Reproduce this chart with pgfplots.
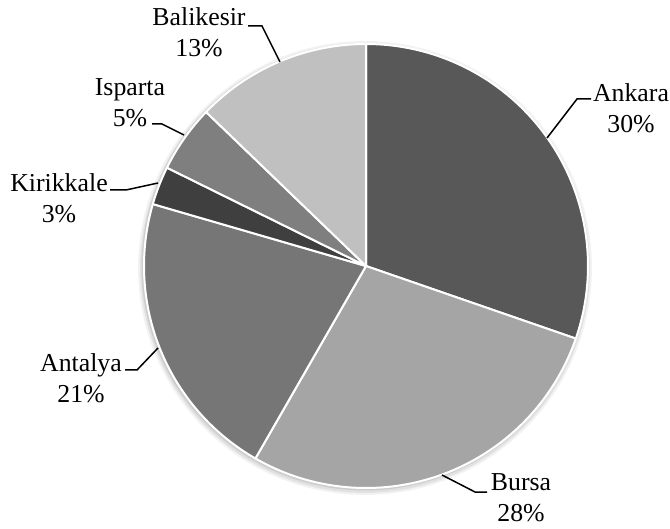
\documentclass[border=0pt]{standalone}
\usepackage{pgfplots}
\pgfplotsset{compat=1.18}
\usepackage{fontspec}
\setmainfont{Liberation Serif}
\definecolor{cAnk}{HTML}{585858}
\definecolor{cBur}{HTML}{A5A5A5}
\definecolor{cAnt}{HTML}{767676}
\definecolor{cKir}{HTML}{3F3F3F}
\definecolor{cIsp}{HTML}{7F7F7F}
\definecolor{cBal}{HTML}{C0C0C0}
% cumulative percent, value percent, colour
\newcommand{\slice}[3]{%
  \pgfmathsetmacro\sA{-90+3.6*#1}%
  \pgfmathsetmacro\sB{-90+3.6*(#1+#2)}%
  \edef\doslice{\noexpand\addplot[draw=white, line width=1pt, line join=round, fill=#3, domain=\sA:\sB, samples=90] ({366+222*cos(x)},{266+222*sin(x)}) -- (axis cs:366,266) -- cycle;}%
  \doslice}
\begin{document}
\begin{tikzpicture}
\begin{axis}[x=0.5pt, y=0.5pt, xmin=0, xmax=670, ymin=0, ymax=529,
  y dir=reverse, hide axis, clip=false]
\path (rel axis cs:0,0) rectangle (rel axis cs:1,1);
% soft shadow
\addplot[draw=none, fill=black, fill opacity=0.05, domain=0:360, samples=120] ({365+227*cos(x)},{268+227*sin(x)}) -- cycle;
\addplot[draw=none, fill=black, fill opacity=0.07, domain=0:360, samples=120] ({365+225*cos(x)},{268+225*sin(x)}) -- cycle;
\addplot[draw=none, fill=black, fill opacity=0.09, domain=0:360, samples=120] ({365+223.5*cos(x)},{267+223.5*sin(x)}) -- cycle;
% slices: Ankara 30.3, Bursa 28.0, Antalya 21.2, Kirikkale 2.8, Isparta 4.9, Balikesir 12.8
\slice{0}{30.3}{cAnk}
\slice{30.3}{28.0}{cBur}
\slice{58.3}{21.2}{cAnt}
\slice{79.5}{2.8}{cKir}
\slice{82.3}{4.9}{cIsp}
\slice{87.2}{12.8}{cBal}
% leader lines
\addplot[black, line width=0.75pt] coordinates {(547,138) (577,99) (591,99)};
\addplot[black, line width=0.75pt] coordinates {(248,26) (262,26) (280,62)};
\addplot[black, line width=0.75pt] coordinates {(152,124) (162,124) (184,135)};
\addplot[black, line width=0.75pt] coordinates {(110,190) (126,190) (158,183)};
\addplot[black, line width=0.75pt] coordinates {(125,370) (137,370) (158,348)};
\addplot[black, line width=0.75pt] coordinates {(442,475) (475,492) (487,492)};
% labels
\tikzset{lbl/.style={align=center, inner sep=0pt, font=\fontsize{12.9}{15.5}\selectfont}}
\node[lbl] at (axis cs:631,108) {Ankara\\30\%};
\node[lbl] at (axis cs:521,498) {Bursa\\28\%};
\node[lbl] at (axis cs:81,378) {Antalya\\21\%};
\node[lbl] at (axis cs:59,198) {Kirikkale\\3\%};
\node[lbl] at (axis cs:130,103) {Isparta\\5\%};
\node[lbl] at (axis cs:199,32) {Balikesir\\13\%};
\end{axis}
\end{tikzpicture}
\end{document}
